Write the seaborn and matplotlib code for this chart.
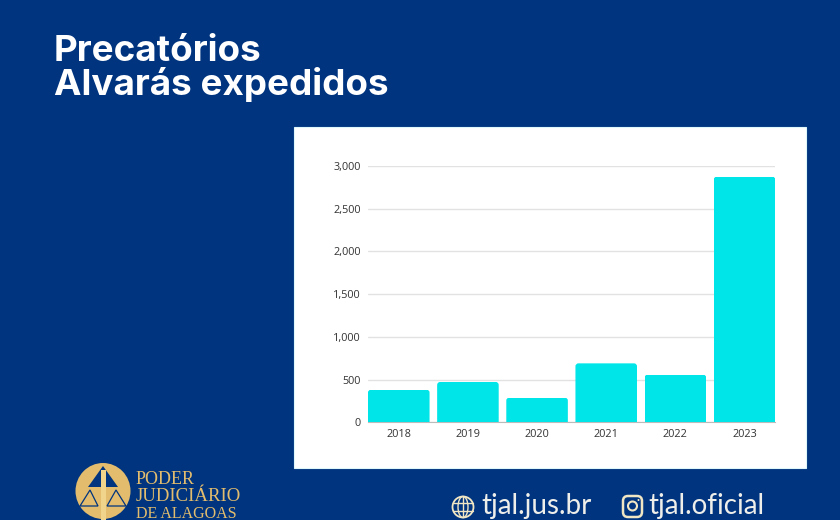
import matplotlib
matplotlib.use("Agg")
import matplotlib.pyplot as plt
from matplotlib.patches import Rectangle, Circle, Ellipse, Polygon, FancyBboxPatch
import pandas as pd
import seaborn as sns

# dados
anos = ["2018", "2019", "2020", "2021", "2022", "2023"]
alvaras = [382, 472, 289, 690, 558, 2875]
yticks = [0, 500, 1000, 1500, 2000, 2500, 3000]

W, H = 840, 520
BG = "#00347f"
CYAN = "#00e5e8"
GOLD = "#e3bd6d"


def fx(px):
    return px / W


def fy(px):
    return 1 - px / H


sns.set_theme(style="white")
plt.rcParams["font.family"] = ["Open Sans", "DejaVu Sans"]

fig = plt.figure(figsize=(8.4, 5.2), dpi=100, facecolor=BG)

# painel branco atras do grafico
fig.add_artist(Rectangle((fx(294), fy(468)), fx(512), 341 / H, transform=fig.transFigure,
                         facecolor="white", edgecolor="#dff6fb", linewidth=0.8, zorder=-1))

# titulo
fig.text(fx(54), fy(61), "Precatórios", color="white", fontsize=26.5, fontweight="bold", family="Inter")
fig.text(fx(54), fy(95), "Alvarás expedidos", color="white", fontsize=26.5, fontweight="bold", family="Inter")

# grafico
ax = fig.add_axes([fx(368), fy(422.3), fx(407.3), 256.3 / H])
ax.patch.set_alpha(0)
df = pd.DataFrame({"ano": anos, "alvaras": alvaras})
sns.barplot(data=df, x="ano", y="alvaras", color=CYAN, saturation=1, width=0.89, ax=ax, zorder=3,
            linewidth=0, edgecolor="none")
ax.set_xlim(-0.445, 5.445)
ax.set_ylim(0, 3000)
ax.set_yticks(yticks)
ax.set_yticklabels([f"{v:,}" for v in yticks])
ax.set_xlabel("")
ax.set_ylabel("")
ax.grid(axis="y", color="#e2e2e2", linewidth=1.0, zorder=0)
ax.set_axisbelow(True)
ax.tick_params(axis="both", length=0, labelsize=7.8, labelcolor="#333333")
ax.tick_params(axis="x", pad=4.5)
ax.tick_params(axis="y", pad=5)
sns.despine(ax=ax, left=True, right=True, top=True, bottom=False)
ax.spines["bottom"].set_color("#bbbbbb")
ax.spines["bottom"].set_linewidth(0.8)

# cantos arredondados nas barras
fig.canvas.draw()
for bar in ax.patches:
    bb = bar.get_window_extent()
    clip = FancyBboxPatch((bb.x0 + 3, bb.y0 - 8), bb.width - 6, bb.height + 5,
                          boxstyle="round,pad=3,rounding_size=3", transform=None)
    bar.set_clip_path(clip)

# logo
logo = fig.add_axes([0, 0, 1, 1], zorder=5)
logo.set_xlim(0, W)
logo.set_ylim(H, 0)
logo.axis("off")
logo.add_patch(Ellipse((103, 491), 55, 56, facecolor=GOLD, edgecolor="none"))
logo.add_patch(Polygon([[103, 466], [88, 487], [118, 487]], facecolor=BG, edgecolor="none"))
logo.add_patch(Rectangle((100.5, 470), 5, 50, facecolor="#f0d48c", edgecolor="none"))
logo.add_patch(Polygon([[90, 490], [80, 506], [98, 506]], facecolor="none", edgecolor=BG, linewidth=0.9))
logo.add_patch(Polygon([[116, 490], [107, 506], [126, 506]], facecolor="none", edgecolor=BG, linewidth=0.9))
logo.text(136, 484, "PODER", color=GOLD, fontsize=13, family="Liberation Serif", va="baseline")
logo.text(136, 501, "JUDICIÁRIO", color=GOLD, fontsize=13.5, family="Liberation Serif", va="baseline")
logo.text(136, 518, "DE ALAGOAS", color=GOLD, fontsize=11.5, family="Liberation Serif", va="baseline")

# icones e enderecos do rodape
cream = "#f1e6c4"
logo.add_patch(Circle((463, 507), 10.5, facecolor="none", edgecolor=cream, linewidth=1.3))
logo.add_patch(Ellipse((463, 507), 10, 21, facecolor="none", edgecolor=cream, linewidth=1))
logo.plot([453, 473], [503, 503], color=cream, linewidth=1)
logo.plot([453, 473], [511, 511], color=cream, linewidth=1)
logo.plot([463, 463], [497, 517], color=cream, linewidth=1)
logo.add_patch(FancyBboxPatch((626, 499), 13, 15, boxstyle="round,pad=3,rounding_size=5",
                              facecolor="none", edgecolor=cream, linewidth=1.8))
logo.add_patch(Circle((632.5, 506), 4.5, facecolor="none", edgecolor=cream, linewidth=1.5))
logo.add_patch(Circle((638.5, 500), 1, facecolor=cream, edgecolor="none"))
logo.text(481, 514, "tjal.jus.br", color="#eeeeea", fontsize=20, family="Lato")
logo.text(648, 514, "tjal.oficial", color="#eeeeea", fontsize=20, family="Lato")

fig.savefig("out.png", dpi=100, facecolor=BG)
